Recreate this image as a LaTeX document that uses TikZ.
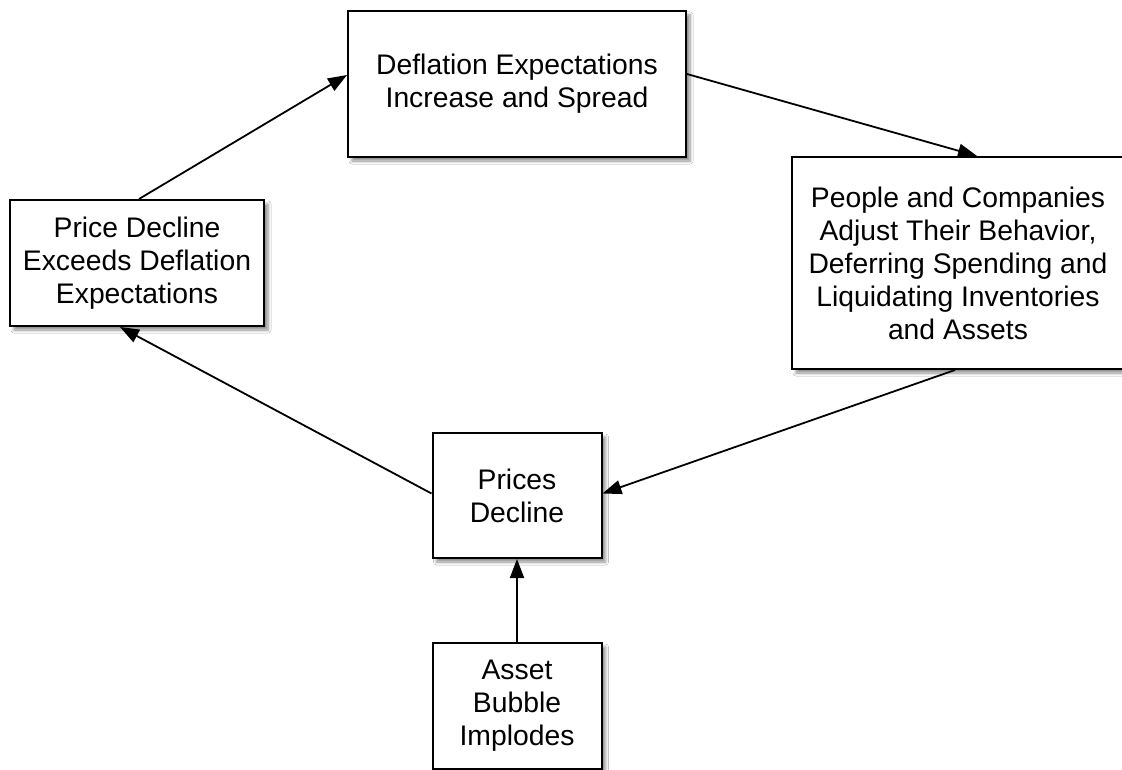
\documentclass[tikz,border=0pt]{standalone}
\usepackage{fontspec}
\setmainfont{Liberation Sans}
\usetikzlibrary{arrows.meta,shadows.blur}
\begin{document}
\begin{tikzpicture}[x=1pt,y=-1pt,
  box/.style={draw=black,line width=2pt,fill=white,inner sep=0pt,align=center,
    font=\fontsize{28.3}{33}\selectfont,
    blur shadow={shadow xshift=4pt,shadow yshift=-4pt,shadow blur steps=6,shadow opacity=45,shadow blur radius=3pt}},
  link/.style={line width=1.8pt,-{Triangle[length=19pt,width=14pt]}}]
\useasboundingbox[fill=white] (0,0) rectangle (1122,770);
\node[box,minimum width=338pt,minimum height=146pt] (b1) at (517,84) {Deflation Expectations\\Increase and Spread};
\node[box,minimum width=332pt,minimum height=212pt] (b2) at (958,263) {People and Companies\\Adjust Their Behavior,\\Deferring Spending and\\Liquidating Inventories\\and Assets};
\node[box,minimum width=254pt,minimum height=126pt] (b3) at (137,263) {Price Decline\\Exceeds Deflation\\Expectations};
\node[box,minimum width=169pt,minimum height=125pt] (b4) at (517,495.5) {Prices\\Decline};
\node[box,minimum width=169pt,minimum height=126pt] (b5) at (517,706) {Asset\\Bubble\\Implodes};
\draw[link] ([xshift=2pt]b3.north) -- ([yshift=9pt]b1.west);
\draw[link] ([yshift=10pt]b1.east) -- ([xshift=19pt]b2.north);
\draw[link] ([xshift=-3pt]b2.south) -- ([yshift=2pt]b4.east);
\draw[link] ([yshift=2pt]b4.west) -- ([xshift=-17pt]b3.south);
\draw[link] (b5.north) -- (b4.south);
\end{tikzpicture}
\end{document}
